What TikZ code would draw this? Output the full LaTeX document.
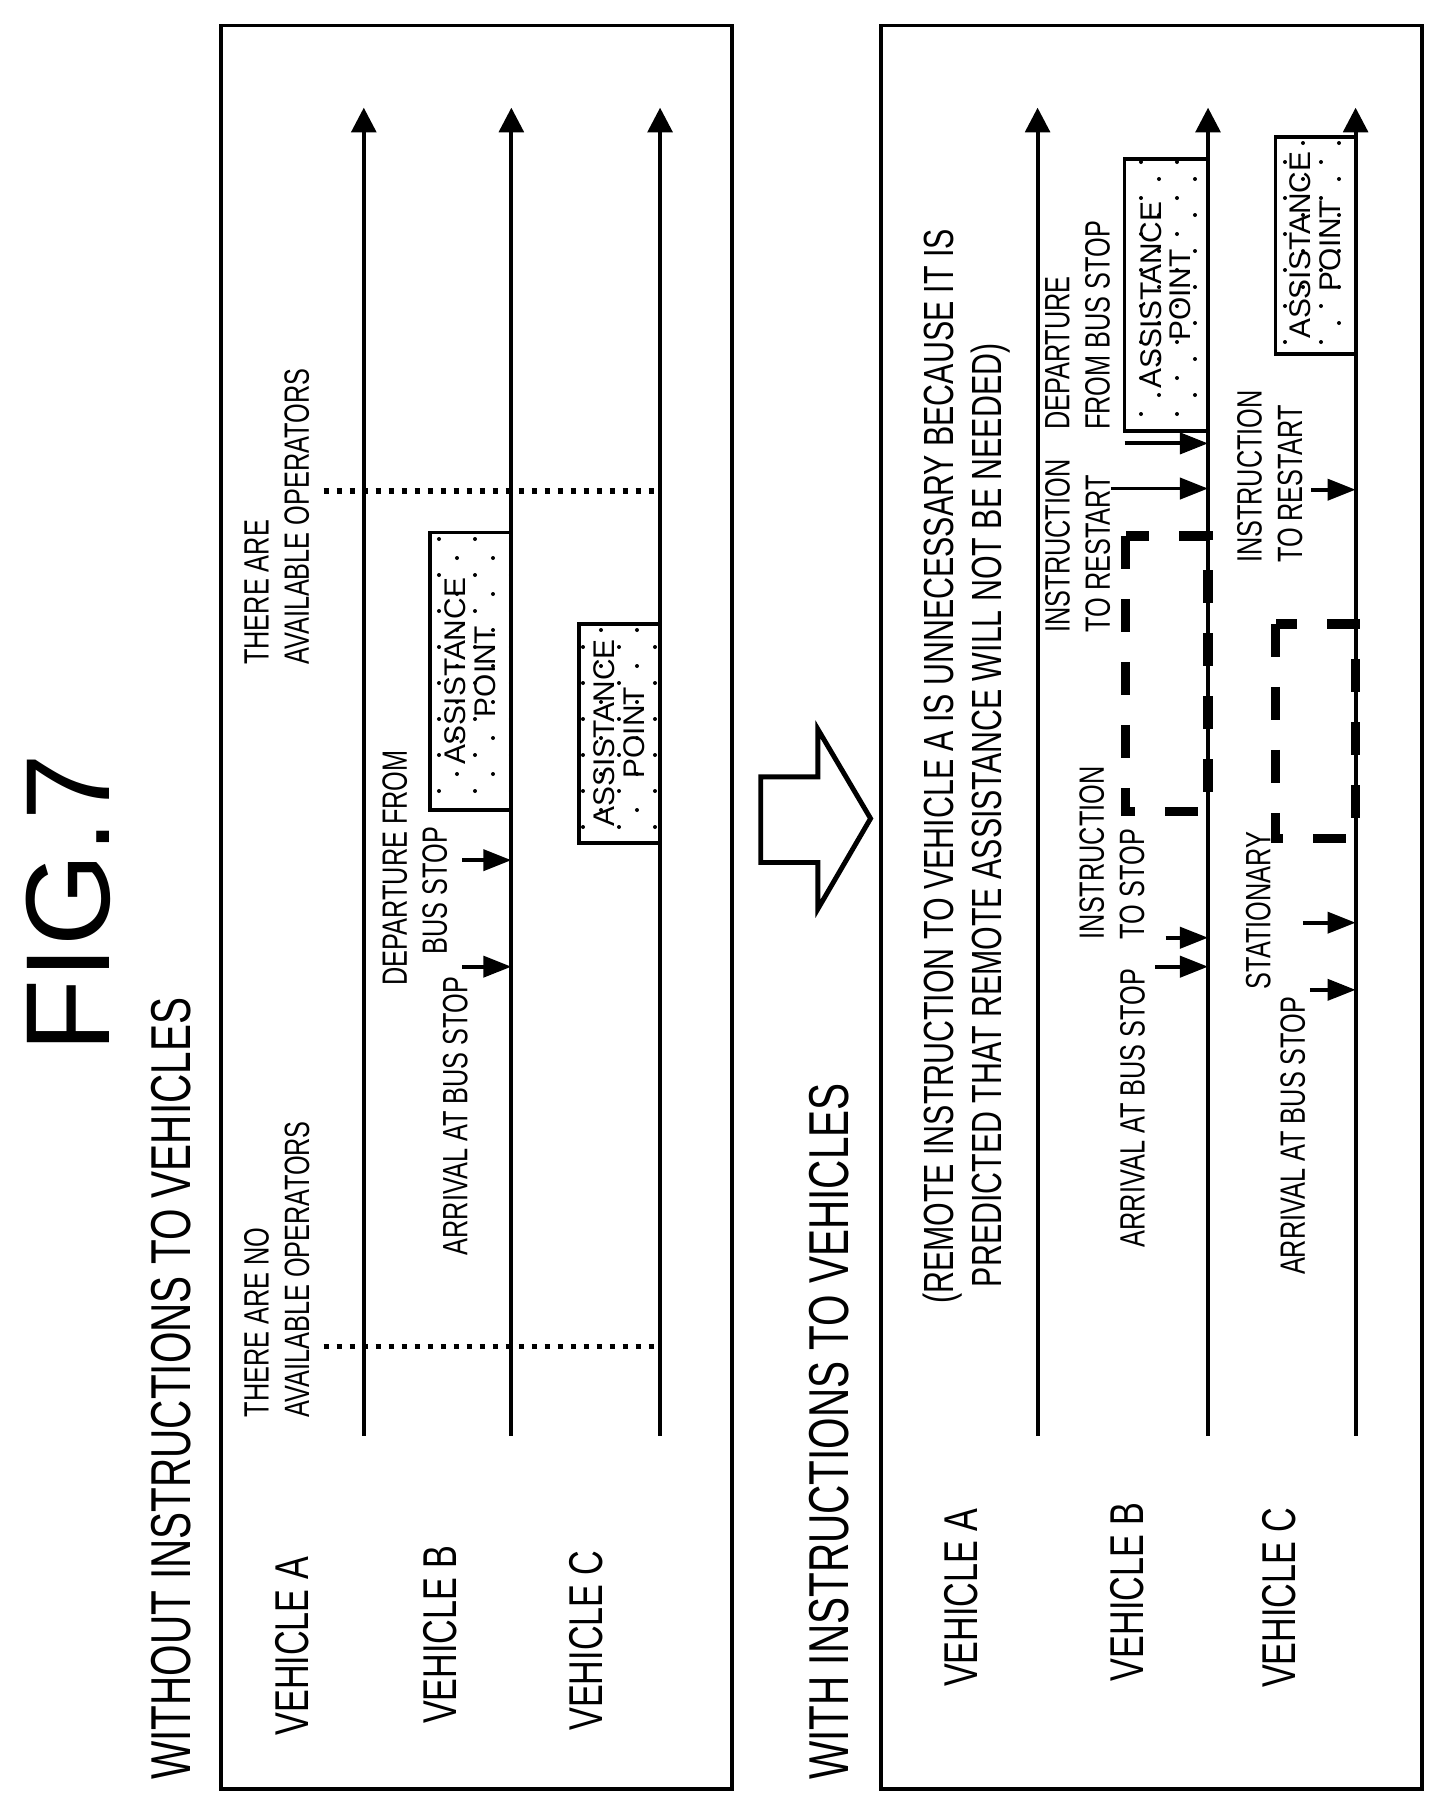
\documentclass[tikz,border=0pt]{standalone}
\usepackage{fontspec}
\setmainfont{Liberation Sans}
\newfontfamily\cond[FakeStretch=0.72]{Liberation Sans}
\usetikzlibrary{arrows.meta,patterns}
\pgfdeclarepatternformonly{sdots}{\pgfpointorigin}{\pgfpoint{0.36cm}{0.36cm}}{\pgfpoint{0.36cm}{0.36cm}}{\pgfpathcircle{\pgfpoint{0.08cm}{0.08cm}}{0.02cm}\pgfpathcircle{\pgfpoint{0.26cm}{0.25cm}}{0.02cm}\pgfusepath{fill}}
\begin{document}
\begin{tikzpicture}[x=0.01145cm,y=-0.01158cm,
  ln/.style={line width=1.1pt},
  axis/.style={ln,-{Triangle[length=7pt,width=7pt]}},
  ev/.style={ln,-{Triangle[length=8pt,width=6pt]}},
  dotl/.style={line width=1.5pt,dash pattern=on 1.5pt off 2.2pt},
  thick dash/.style={line width=2.6pt,dash pattern=on 0.33cm off 0.3cm},
  ap/.style={ln,pattern=sdots},
  aptext/.style={rotate=90,align=center,font=\fontsize{8.5}{8.5}\selectfont},
  veh/.style={rotate=90,font=\cond\fontsize{13.5}{14}\selectfont},
  lbl/.style={rotate=90,anchor=west,align=left,font=\cond\fontsize{10}{11.5}\selectfont},
  head/.style={rotate=90,anchor=west,font=\cond\fontsize{16}{18}\selectfont}]
\useasboundingbox (0,0) rectangle (1270,1560);
\node[rotate=90,font=\fontsize{34}{34}\selectfont] (fig) at (60,780) {FIG.7};
% ---------------- top panel
\node[head] (h1) at (150,1548) {WITHOUT INSTRUCTIONS TO VEHICLES};
\draw[ln] (193,22) rectangle (640,1545);
\coordinate (a1s) at (318,1240); \coordinate (a1e) at (318,93);
\coordinate (b1s) at (447,1240); \coordinate (b1e) at (447,93);
\coordinate (c1s) at (577,1240); \coordinate (c1e) at (577,93);
\draw[axis] (a1s) -- (a1e);
\draw[axis] (b1s) -- (b1e);
\draw[axis] (c1s) -- (c1e);
\node[veh] (va1) at (255,1422) {VEHICLE A};
\node[veh] (vb1) at (385,1412) {VEHICLE B};
\node[veh] (vc1) at (512,1417) {VEHICLE C};
\coordinate (d1a) at (283,1163); \coordinate (d1b) at (577,1163);
\coordinate (d2a) at (283,424); \coordinate (d2b) at (577,424);
\draw[dotl] (d1a) -- (d1b);
\draw[dotl] (d2a) -- (d2b);
\node[lbl] (noop) at (242,1235) {THERE ARE NO\\AVAILABLE OPERATORS};
\node[lbl] (op) at (242,585) {THERE ARE\\AVAILABLE OPERATORS};
\node[lbl] (arr1) at (398,1095) {ARRIVAL AT BUS STOP};
\node[lbl] (dep1) at (345,862) {DEPARTURE FROM};
\node[lbl] (dep1b) at (380,835) {BUS STOP};
\coordinate (e1a) at (404,835); \coordinate (e1b) at (447,835);
\coordinate (e2a) at (404,743); \coordinate (e2b) at (447,743);
\draw[ev] (e1a) -- (e1b);
\draw[ev] (e2a) -- (e2b);
\draw[ap] (376,460) rectangle (447,700);
\node[aptext] (ap1) at (411,580) {ASSISTANCE\\POINT};
\draw[ap] (506,539) rectangle (577,728);
\node[aptext] (ap2) at (541,633) {ASSISTANCE\\POINT};
% ---------------- big arrow
\draw[line width=1.4pt] (665,671) -- (715,671) -- (715,630) -- (761,707) -- (715,785) -- (715,745) -- (665,745) -- cycle;
% ---------------- bottom panel
\node[head] (h2) at (725,1548) {WITH INSTRUCTIONS TO VEHICLES};
\draw[ln] (770,22) rectangle (1243,1545);
\coordinate (a2s) at (907,1240); \coordinate (a2e) at (907,93);
\coordinate (b2s) at (1056,1240); \coordinate (b2e) at (1056,93);
\coordinate (c2s) at (1185,1240); \coordinate (c2e) at (1185,93);
\draw[axis] (a2s) -- (a2e);
\draw[axis] (b2s) -- (b2e);
\draw[axis] (c2s) -- (c2e);
\node[veh] (va2) at (840,1380) {VEHICLE A};
\node[veh] (vb2) at (985,1375) {VEHICLE B};
\node[veh] (vc2) at (1118,1380) {VEHICLE C};
\node[lbl,font=\cond\fontsize{12}{13.5}\selectfont] (note) at (845,1137) {(REMOTE INSTRUCTION TO VEHICLE A IS UNNECESSARY BECAUSE IT IS\\\ \ PREDICTED THAT REMOTE ASSISTANCE WILL NOT BE NEEDED)};
\node[lbl] (arr2) at (990,1088) {ARRIVAL AT BUS STOP};
\node[lbl] (stp) at (972,822) {INSTRUCTION\\TO STOP};
\node[lbl] (rs2) at (942,557) {INSTRUCTION\\TO RESTART};
\node[lbl] (dep2) at (942,382) {DEPARTURE\\FROM BUS STOP};
\node[lbl] (sta) at (1100,865) {STATIONARY};
\node[lbl] (arr3) at (1130,1112) {ARRIVAL AT BUS STOP};
\node[lbl] (rs3) at (1110,497) {INSTRUCTION\\TO RESTART};
\coordinate (f1a) at (1019,810); \coordinate (f1b) at (1056,810);
\coordinate (f2a) at (1010,835); \coordinate (f2b) at (1056,835);
\coordinate (f3a) at (971,422); \coordinate (f3b) at (1056,422);
\coordinate (f4a) at (983,383); \coordinate (f4b) at (1056,383);
\draw[ev] (f1a) -- (f1b);
\draw[ev] (f2a) -- (f2b);
\draw[ev] (f3a) -- (f3b);
\draw[ev] (f4a) -- (f4b);
\coordinate (g1a) at (1139,797); \coordinate (g1b) at (1185,797);
\coordinate (g2a) at (1145,855); \coordinate (g2b) at (1185,855);
\coordinate (g3a) at (1146,423); \coordinate (g3b) at (1185,423);
\draw[ev] (g1a) -- (g1b);
\draw[ev] (g2a) -- (g2b);
\draw[ev] (g3a) -- (g3b);
\draw[ap] (983,137) rectangle (1056,372);
\node[aptext] (ap3) at (1019,255) {ASSISTANCE\\POINT};
\draw[ap] (1115,118) rectangle (1185,306);
\node[aptext] (ap4) at (1150,212) {ASSISTANCE\\POINT};
\draw[thick dash] (984,463) rectangle (1056,701);
\draw[thick dash] (1115,539) rectangle (1185,724);
\end{tikzpicture}
\end{document}
